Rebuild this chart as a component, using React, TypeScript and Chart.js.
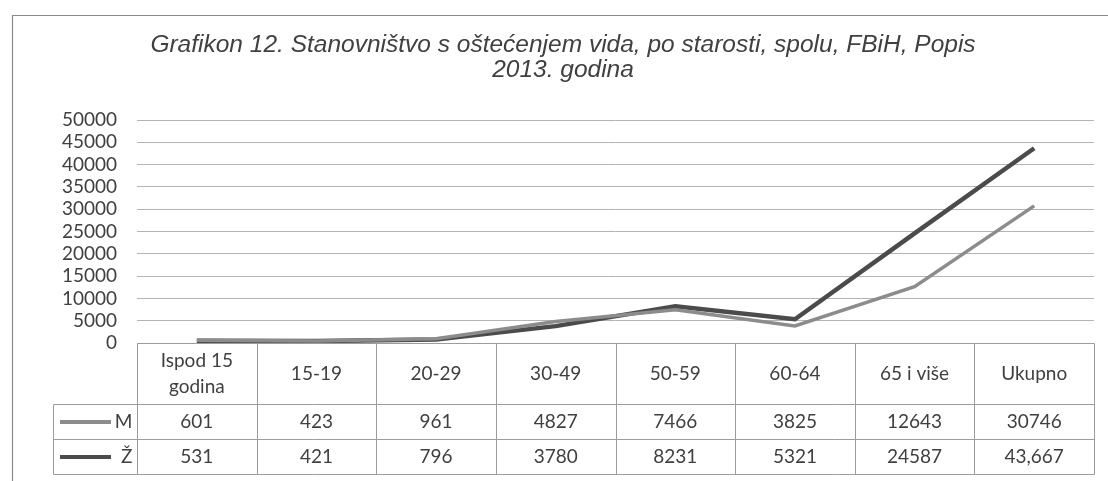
import React, { useEffect, useRef } from 'react';
import { Chart, registerables } from 'chart.js';

Chart.register(...registerables);

const titleLines = [
  'Grafikon 12. Stanovništvo s oštećenjem vida, po starosti, spolu, FBiH, Popis',
  '2013. godina',
];
const categories: (string | string[])[] = [
  ['Ispod 15', 'godina'],
  '15-19',
  '20-29',
  '30-49',
  '50-59',
  '60-64',
  '65 i više',
  'Ukupno',
];
const seriesNames = ['M', 'Ž'];
const mValues = [601, 423, 961, 4827, 7466, 3825, 12643, 30746];
const zValues = [531, 421, 796, 3780, 8231, 5321, 24587, 43667];
const mTableLabels = ['601', '423', '961', '4827', '7466', '3825', '12643', '30746'];
const zTableLabels = ['531', '421', '796', '3780', '8231', '5321', '24587', '43,667'];
const yMin = 0;
const yMax = 50000;
const yStep = 5000;

const M_COLOR = '#8c8c8c';
const Z_COLOR = '#4b4b4b';
const TEXT = '#404040';
const FONT = 'Lato';

const framePlugin = {
  id: 'frame',
  beforeDraw(chart: any) {
    const { ctx, width, height } = chart;
    ctx.save();
    ctx.fillStyle = '#ffffff';
    ctx.fillRect(0, 0, width, height);
    ctx.strokeStyle = '#8a8a8a';
    ctx.lineWidth = 1.2;
    ctx.beginPath();
    ctx.moveTo(12.5, height + 2);
    ctx.lineTo(12.5, 15.5);
    ctx.lineTo(width + 2, 15.5);
    ctx.stroke();
    ctx.restore();
  },
};

const tablePlugin = {
  id: 'dataTable',
  afterDraw(chart: any) {
    const { ctx } = chart;
    const xs = chart.scales.x;
    const { left, right, bottom } = chart.chartArea;
    const n = categories.length;
    const colW = (right - left) / n;
    const top = Math.round(bottom) + 0.5;
    const headerBottom = 404.5;
    const row1Bottom = 439.5;
    const row2Bottom = 474.5;
    const tableLeft = 53.5;
    const L = Math.round(left) + 0.5;
    const R = Math.round(right) + 0.5;

    ctx.save();
    ctx.strokeStyle = '#9c9c9c';
    ctx.lineWidth = 1;
    ctx.beginPath();
    ctx.moveTo(L, top);
    ctx.lineTo(R, top);
    [headerBottom, row1Bottom, row2Bottom].forEach((y) => {
      ctx.moveTo(tableLeft, y);
      ctx.lineTo(R, y);
    });
    ctx.moveTo(tableLeft, headerBottom);
    ctx.lineTo(tableLeft, row2Bottom);
    for (let i = 0; i <= n; i++) {
      const cx = xs.getPixelForValue(Math.min(i, n - 1));
      const bx = Math.round(i < n ? cx - colW / 2 : cx + colW / 2) + 0.5;
      ctx.moveTo(bx, top);
      ctx.lineTo(bx, row2Bottom);
    }
    ctx.stroke();

    ctx.fillStyle = TEXT;
    ctx.font = `19px ${FONT}`;
    ctx.textAlign = 'center';
    ctx.textBaseline = 'middle';
    const headerMid = (top + headerBottom) / 2;
    const r1Mid = (headerBottom + row1Bottom) / 2;
    const r2Mid = (row1Bottom + row2Bottom) / 2;
    categories.forEach((cat, i) => {
      const cx = xs.getPixelForValue(i);
      const lines = Array.isArray(cat) ? cat : [cat];
      const lh = 26;
      lines.forEach((ln, k) => {
        ctx.fillText(ln, cx, headerMid - ((lines.length - 1) * lh) / 2 + k * lh);
      });
      ctx.fillText(mTableLabels[i], cx, r1Mid);
      ctx.fillText(zTableLabels[i], cx, r2Mid);
    });

    // legend keys
    const keys = [
      { name: seriesNames[0], color: M_COLOR, y: r1Mid },
      { name: seriesNames[1], color: Z_COLOR, y: r2Mid },
    ];
    keys.forEach((k) => {
      ctx.strokeStyle = k.color;
      ctx.lineWidth = 4;
      ctx.beginPath();
      ctx.moveTo(60, k.y);
      ctx.lineTo(111, k.y);
      ctx.stroke();
      ctx.textAlign = 'right';
      ctx.fillStyle = TEXT;
      ctx.fillText(k.name, L - 5, k.y);
    });
    ctx.restore();
  },
};

export default function App() {
  const ref = useRef<HTMLCanvasElement>(null);
  useEffect(() => {
    if (!ref.current) return;
    const chart = new Chart(ref.current, {
      type: 'line',
      data: {
        labels: categories as any,
        datasets: [
          {
            label: seriesNames[0],
            data: mValues,
            borderColor: M_COLOR,
            backgroundColor: M_COLOR,
            borderWidth: 3.5,
            pointRadius: 0,
            tension: 0,
          },
          {
            label: seriesNames[1],
            data: zValues,
            borderColor: Z_COLOR,
            backgroundColor: Z_COLOR,
            borderWidth: 4.5,
            pointRadius: 0,
            tension: 0,
          },
        ],
      },
      options: {
        responsive: false,
        animation: false,
        layout: { padding: { left: 32, right: 14, top: 0, bottom: 138 } },
        plugins: {
          legend: { display: false },
          tooltip: { enabled: false },
          title: {
            display: true,
            text: titleLines,
            color: TEXT,
            font: { family: 'Liberation Sans', style: 'italic', size: 24.5, lineHeight: 1.0, weight: 'normal' },
            padding: { top: 33, bottom: 38 },
          },
        },
        scales: {
          x: {
            type: 'category',
            display: false,
            offset: true,
          },
          y: {
            min: yMin,
            max: yMax,
            afterFit: (s: any) => {
              s.width = 105;
            },
            border: { display: false },
            grid: { color: '#b4b4b4', lineWidth: 1, drawTicks: false },
            ticks: {
              stepSize: yStep,
              autoSkip: false,
              padding: 20,
              color: TEXT,
              font: { family: FONT, size: 19 },
              callback: (v: any) => String(v),
            },
          },
        },
      },
      plugins: [framePlugin, tablePlugin],
    });
    return () => chart.destroy();
  }, []);
  return (
    <div style={{ position: 'fixed', left: 0, top: 0, width: 1108, height: 481, background: '#fff' }}>
      <canvas ref={ref} width={1108} height={481} />
    </div>
  );
}
